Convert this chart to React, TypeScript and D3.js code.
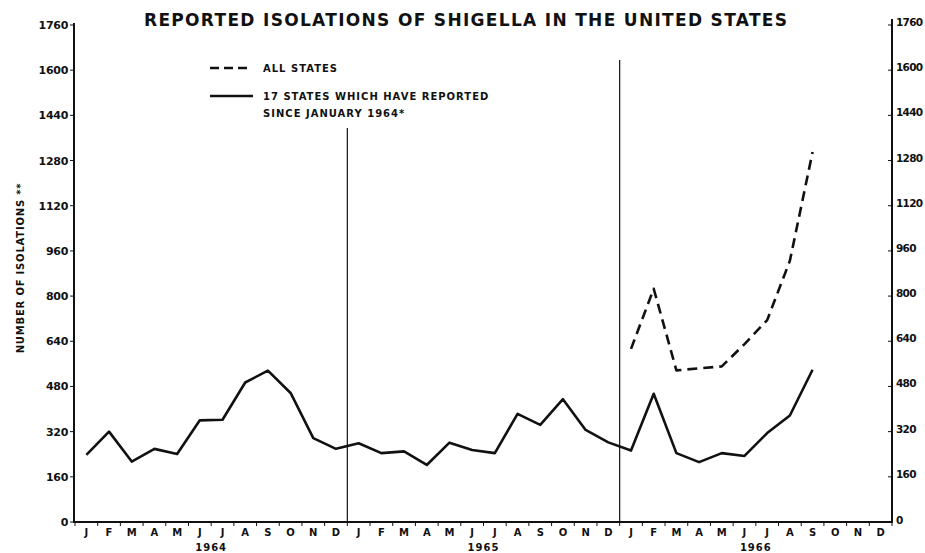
import React from "react";
import * as d3 from "d3";

const monthLabels = ["J","F","M","A","M","J","J","A","S","O","N","D","J","F","M","A","M","J","J","A","S","O","N","D","J","F","M","A","M","J","J","A","S","O","N","D"];
const years = ["1964", "1965", "1966"];
const yTicks = [0, 160, 320, 480, 640, 800, 960, 1120, 1280, 1440, 1600, 1760];

// 17 states which have reported since January 1964 (Jan 1964 .. Sep 1966)
const seventeenStates = [
  238, 320, 214, 259, 241, 360, 362, 494, 536, 457, 297, 259,
  279, 244, 250, 202, 281, 255, 244, 383, 344, 435, 326, 282,
  253, 454, 244, 212, 244, 234, 315, 377, 539,
];
// All states (Jan 1966 .. Sep 1966), starting at month index 24
const allStatesStart = 24;
const allStates = [613, 826, 537, 544, 551, 630, 715, 925, 1310];

const W = 925;
const H = 553;
const FONT = "'DejaVu Sans', 'Liberation Sans', sans-serif";

export default function App() {
  const x = d3.scaleBand<number>().domain(d3.range(36)).range([75, 892]).paddingInner(0).paddingOuter(0);
  const y = d3.scaleLinear().domain([0, 1760]).range([522, 25]);
  const cx = (i: number) => (x(i) as number) + x.bandwidth() / 2;
  const bw = x.bandwidth();
  const line = d3.line<[number, number]>().x((d) => cx(d[0])).y((d) => y(d[1]));

  const solidPts: [number, number][] = seventeenStates.map((v, i) => [i, v]);
  const dashPts: [number, number][] = allStates.map((v, i) => [i + allStatesStart, v]);

  const x0 = x(0) as number;
  const x1 = x0 + bw * 36;
  const sep1 = x0 + bw * 12;
  const sep2 = x0 + bw * 24;

  return (
    <div style={{ position: "fixed", left: 0, top: 0 }}>
      <svg width={W} height={H} viewBox={`0 0 ${W} ${H}`} style={{ display: "block", background: "#fff" }}>
        <rect x={0} y={0} width={W} height={H} fill="#fff" />
        {/* Title */}
        <text x={144} y={26} fontFamily={FONT} fontWeight="bold" fontSize={17} fill="#111" textLength={643} lengthAdjust="spacing">
          REPORTED ISOLATIONS OF SHIGELLA IN THE UNITED STATES
        </text>

        {/* Axes lines */}
        <line x1={x0 - 1} x2={x0 - 1} y1={y(1760) - 2} y2={y(0)} stroke="#111" strokeWidth={2} />
        <line x1={x1} x2={x1} y1={y(1760) - 6} y2={y(0)} stroke="#111" strokeWidth={2} />
        <line x1={x0 - 2} x2={x1 + 1} y1={y(0)} y2={y(0)} stroke="#111" strokeWidth={2} />

        {/* Year separators */}
        <line x1={sep1} x2={sep1} y1={128} y2={y(0)} stroke="#111" strokeWidth={1.2} />
        <line x1={sep2} x2={sep2} y1={60} y2={y(0)} stroke="#111" strokeWidth={1.2} />

        {/* Left ticks */}
        {yTicks.map((t) => (
          <g key={"l" + t}>
            <line x1={x0 - 5} x2={x0 - 1} y1={y(t)} y2={y(t)} stroke="#111" strokeWidth={1} />
            <text x={x0 - 7} y={y(t) + 4} textAnchor="end" fontFamily={FONT} fontWeight="bold" fontSize={11} fill="#111" letterSpacing={-0.3}>
              {t}
            </text>
          </g>
        ))}
        {/* Right ticks */}
        {yTicks.map((t) => (
          <g key={"r" + t}>
            <line x1={x1 - 4} x2={x1} y1={y(t)} y2={y(t)} stroke="#111" strokeWidth={1} />
            <text x={x1 + 4} y={y(t) + (t === 0 ? 2 : 1)} textAnchor="start" fontFamily={FONT} fontWeight="bold" fontSize={10.5} fill="#111" letterSpacing={-0.7}>
              {t}
            </text>
          </g>
        ))}

        {/* Month ticks and labels */}
        {d3.range(37).map((i) => (
          <line key={"mt" + i} x1={x0 + bw * i} x2={x0 + bw * i} y1={y(0)} y2={y(0) + 4} stroke="#111" strokeWidth={1} />
        ))}
        {monthLabels.map((m, i) => (
          <text key={"m" + i} x={cx(i)} y={536} textAnchor="middle" fontFamily={FONT} fontWeight="bold" fontSize={10} fill="#111">
            {m}
          </text>
        ))}
        {years.map((yr, k) => (
          <text key={yr} x={x0 + bw * (12 * k + 6)} y={551} textAnchor="middle" fontFamily={FONT} fontWeight="bold" fontSize={10} fill="#111" letterSpacing={1}>
            {yr}
          </text>
        ))}

        {/* Y axis title */}
        <text transform={`translate(24, 268) rotate(-90)`} textAnchor="middle" fontFamily={FONT} fontWeight="bold" fontSize={10} fill="#111" letterSpacing={0.8}>
          NUMBER OF ISOLATIONS **
        </text>

        {/* Data lines */}
        <path d={line(solidPts) || ""} fill="none" stroke="#111" strokeWidth={2.6} strokeLinejoin="round" />
        <path d={line(dashPts) || ""} fill="none" stroke="#111" strokeWidth={2.6} strokeDasharray="10 6" strokeLinejoin="round" />

        {/* Legend */}
        <line x1={210} x2={248} y1={68} y2={68} stroke="#111" strokeWidth={2.6} strokeDasharray="9 5" />
        <text x={263} y={72} fontFamily={FONT} fontWeight="bold" fontSize={10} fill="#111" letterSpacing={1}>
          ALL STATES
        </text>
        <line x1={210} x2={253} y1={96} y2={96} stroke="#111" strokeWidth={2.4} />
        <text x={263} y={100} fontFamily={FONT} fontWeight="bold" fontSize={10} fill="#111" letterSpacing={1}>
          17 STATES WHICH HAVE REPORTED
        </text>
        <text x={263} y={117} fontFamily={FONT} fontWeight="bold" fontSize={10} fill="#111" letterSpacing={1}>
          SINCE JANUARY 1964*
        </text>
      </svg>
    </div>
  );
}
